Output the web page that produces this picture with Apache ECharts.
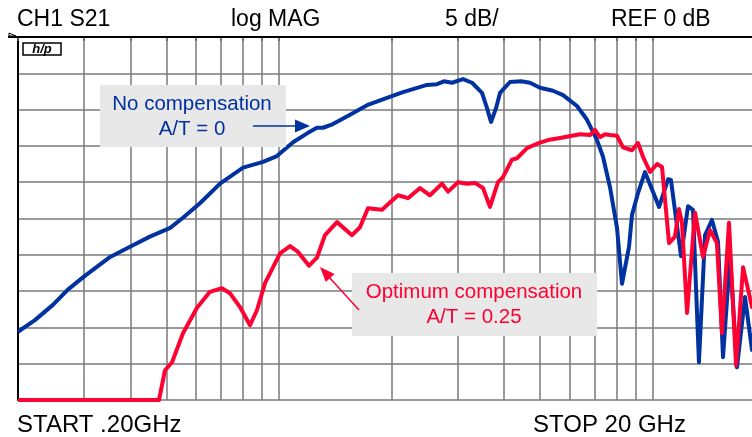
<!DOCTYPE html>
<html>
<head>
<meta charset="utf-8">
<script src="https://cdn.jsdelivr.net/npm/echarts@6/dist/echarts.min.js"></script>
<style>
html, body { margin: 0; padding: 0; background: #fff; }
#main { width: 752px; height: 437px; }
</style>
</head>
<body>
<div id="main"></div>
<script>
// frequency in GHz, S21 magnitude in dB
var gridFreqs = [0.2, 0.3, 0.4, 0.5, 0.6, 0.7, 0.8, 0.9, 1, 2, 3, 4, 5, 6, 7, 8, 9, 10, 20];

// A/T = 0 (no compensation)
var noCompFreq = [0.200, 0.222, 0.248, 0.272, 0.302, 0.353, 0.399, 0.451, 0.511, 0.553, 0.614, 0.695, 0.801, 0.906, 0.987,
    1.090, 1.195, 1.263, 1.311, 1.394, 1.549, 1.720, 1.945, 2.147, 2.490, 2.648, 2.764, 2.904, 3.108, 3.286, 3.494, 3.604,
    3.694, 3.810, 3.904, 4.152, 4.444, 4.698, 4.996, 5.412, 5.758, 6.276, 6.676, 7.100, 7.368, 7.692, 8.032, 8.282, 8.648,
    8.810, 9.142, 9.544, 10.41, 11.00, 11.20, 11.92, 12.44, 12.83, 13.31, 13.82, 14.42, 14.97, 15.44, 16.12, 16.83, 17.68,
    18.46, 20];
var noCompDb = [-40.6, -39.0, -36.9, -34.8, -32.9, -30.3, -28.9, -27.5, -26.3, -24.9, -22.9, -20.2, -18.0, -17.2, -16.4,
    -14.5, -13.2, -12.5, -12.5, -12.0, -10.7, -9.4, -8.4, -7.6, -6.6, -6.5, -6.1, -6.3, -5.8, -6.3, -7.7, -9.8,
    -11.7, -9.8, -7.7, -6.2, -6.1, -6.3, -7.0, -7.4, -8.0, -9.5, -11.4, -14.2, -16.5, -20.7, -26.3, -34.0, -28.9,
    -24.5, -21.5, -18.6, -23.4, -19.6, -19.7, -30.2, -23.3, -23.8, -44.8, -27.3, -25.2, -28.2, -44.1, -30.3, -45.5, -35.8,
    -43.1, -40];

// A/T = 0.25 (optimum compensation)
var optCompFreq = [0.2, 0.477, 0.495, 0.517, 0.553, 0.603, 0.653, 0.703, 0.739, 0.786, 0.836, 0.873, 0.917, 1.006, 1.070,
    1.124, 1.203, 1.263, 1.327, 1.429, 1.568, 1.647, 1.730, 1.886, 2.082, 2.214, 2.384, 2.536, 2.730, 2.834, 3.014, 3.186,
    3.346, 3.516, 3.670, 3.856, 3.976, 4.204, 4.336, 4.612, 4.904, 5.248, 5.652, 6.086, 6.392, 6.800, 7.012, 7.230, 7.458,
    7.692, 8.032, 8.334, 8.810, 9.142, 9.428, 9.844, 10.28, 10.60, 11.07, 11.48, 11.77, 11.99, 12.37, 12.99, 13.65, 14.25,
    14.87, 15.34, 16.02, 16.73, 17.47, 18.46, 20];
var optCompDb = [-50, -50, -45.9, -44.8, -40.8, -37.3, -35.1, -34.6, -35.3, -37.2, -39.7, -37.6, -33.9, -29.8, -28.8,
    -29.6, -31.5, -30.4, -27.3, -25.5, -27.3, -26.2, -23.6, -23.8, -21.8, -22.2, -20.8, -21.8, -20.2, -21.3, -20.0, -20.2,
    -20.1, -20.8, -23.4, -20.0, -19.3, -16.9, -16.7, -15.3, -14.7, -14.2, -13.9, -13.6, -13.4, -13.5, -12.8, -13.8, -13.4,
    -13.5, -13.6, -15.2, -15.6, -14.6, -16.5, -18.6, -17.5, -17.9, -28.4, -27.5, -23.7, -25.6, -38.0, -24.2, -30.3, -26.6,
    -28.4, -40.8, -25.6, -45.2, -31.7, -37.2, -30];

var headerTexts = ['CH1 S21', 'log MAG', '5 dB/', 'REF 0 dB'];
var startText = 'START .20GHz';
var stopText = 'STOP 20 GHz';

function zip(xs, ys) {
    return xs.map(function (x, i) { return [x, ys[i]]; });
}

var font = '"Liberation Sans", Arial, sans-serif';
var blue = '#0032a0';
var red = '#ff0033';

var chart = echarts.init(document.getElementById('main'));
chart.setOption({
    backgroundColor: '#fff',
    animation: false,
    // the sweep runs a little past the right edge of the picture
    grid: { left: 18, top: 37, width: 747, height: 363, containLabel: false, outerBoundsMode: 'none' },
    xAxis: {
        type: 'log',
        logBase: 10,
        min: 0.2,
        max: 20,
        axisLine: { show: true, lineStyle: { color: '#555', width: 2 } },
        axisTick: { show: true, customValues: gridFreqs, length: 4, lineStyle: { color: '#666', width: 1.5 } },
        axisLabel: { show: false },
        splitLine: { show: true, lineStyle: { color: '#7a7a7a', width: 1.5 } }
    },
    yAxis: {
        type: 'value',
        min: -50,
        max: 0,
        interval: 5,
        axisLine: { show: true, lineStyle: { color: '#000', width: 2 } },
        axisTick: { show: false },
        axisLabel: { show: false },
        splitLine: { show: true, lineStyle: { color: '#7a7a7a', width: 1.5 } }
    },
    series: [
        {
            name: 'No compensation',
            type: 'line',
            data: zip(noCompFreq, noCompDb),
            showSymbol: false,
            lineStyle: { color: blue, width: 4, join: 'round' },
            z: 3
        },
        {
            name: 'Optimum compensation',
            type: 'line',
            data: zip(optCompFreq, optCompDb),
            showSymbol: false,
            lineStyle: { color: red, width: 4, join: 'round' },
            z: 4
        }
    ],
    graphic: [
        // top border and reference marker
        { type: 'line', shape: { x1: 8, y1: 37, x2: 752, y2: 37 }, style: { stroke: '#000', lineWidth: 2 }, z: 10 },
        { type: 'polyline', shape: { points: [[9, 33], [16, 36], [9, 36], [9, 33]] }, style: { stroke: '#000', fill: null, lineWidth: 1 }, z: 10 },
        // hp logo
        { type: 'rect', shape: { x: 23, y: 43, width: 38, height: 12 }, style: { fill: '#fff', stroke: '#000', lineWidth: 1.5 }, z: 10 },
        { type: 'text', x: 42, y: 49.5, style: { text: 'h/p', font: 'italic bold 13px ' + font, fill: '#000', textAlign: 'center', textVerticalAlign: 'middle' }, z: 11 },
        // header
        { type: 'text', x: 17, y: 20, style: { text: headerTexts[0], font: '23px ' + font, fill: '#000', textVerticalAlign: 'middle' } },
        { type: 'text', x: 231, y: 20, style: { text: headerTexts[1], font: '23px ' + font, fill: '#000', textVerticalAlign: 'middle' } },
        { type: 'text', x: 445, y: 20, style: { text: headerTexts[2], font: '23px ' + font, fill: '#000', textVerticalAlign: 'middle' } },
        { type: 'text', x: 611, y: 20, style: { text: headerTexts[3], font: '23px ' + font, fill: '#000', textVerticalAlign: 'middle' } },
        // footer
        { type: 'text', x: 17, y: 425, style: { text: startText, font: '24px ' + font, fill: '#000', textVerticalAlign: 'middle' } },
        { type: 'text', x: 533, y: 425, style: { text: stopText, font: '24px ' + font, fill: '#000', textVerticalAlign: 'middle' } },
        // blue annotation
        { type: 'rect', shape: { x: 100, y: 85, width: 186, height: 62 }, style: { fill: '#e8e8e8' }, z: 20 },
        { type: 'text', x: 192, y: 104, style: { text: 'No compensation', font: '20.5px ' + font, fill: blue, textAlign: 'center', textVerticalAlign: 'middle' }, z: 21 },
        { type: 'text', x: 192, y: 129, style: { text: 'A/T = 0', font: '20.5px ' + font, fill: blue, textAlign: 'center', textVerticalAlign: 'middle' }, z: 21 },
        { type: 'line', shape: { x1: 253, y1: 126, x2: 298, y2: 126 }, style: { stroke: blue, lineWidth: 1.5 }, z: 21 },
        { type: 'polygon', shape: { points: [[295, 119.5], [310, 126], [295, 132.5]] }, style: { fill: blue }, z: 21 },
        // red annotation
        { type: 'rect', shape: { x: 352, y: 273, width: 245, height: 63 }, style: { fill: '#e8e8e8' }, z: 20 },
        { type: 'text', x: 474, y: 292, style: { text: 'Optimum compensation', font: '20.5px ' + font, fill: red, textAlign: 'center', textVerticalAlign: 'middle' }, z: 21 },
        { type: 'text', x: 474, y: 317, style: { text: 'A/T = 0.25', font: '20.5px ' + font, fill: red, textAlign: 'center', textVerticalAlign: 'middle' }, z: 21 },
        { type: 'line', shape: { x1: 359, y1: 310, x2: 328, y2: 276 }, style: { stroke: red, lineWidth: 1.5 }, z: 21 },
        { type: 'polygon', shape: { points: [[320, 267], [325.8, 282.1], [334.6, 273.9]] }, style: { fill: red }, z: 21 }
    ]
});
</script>
</body>
</html>
